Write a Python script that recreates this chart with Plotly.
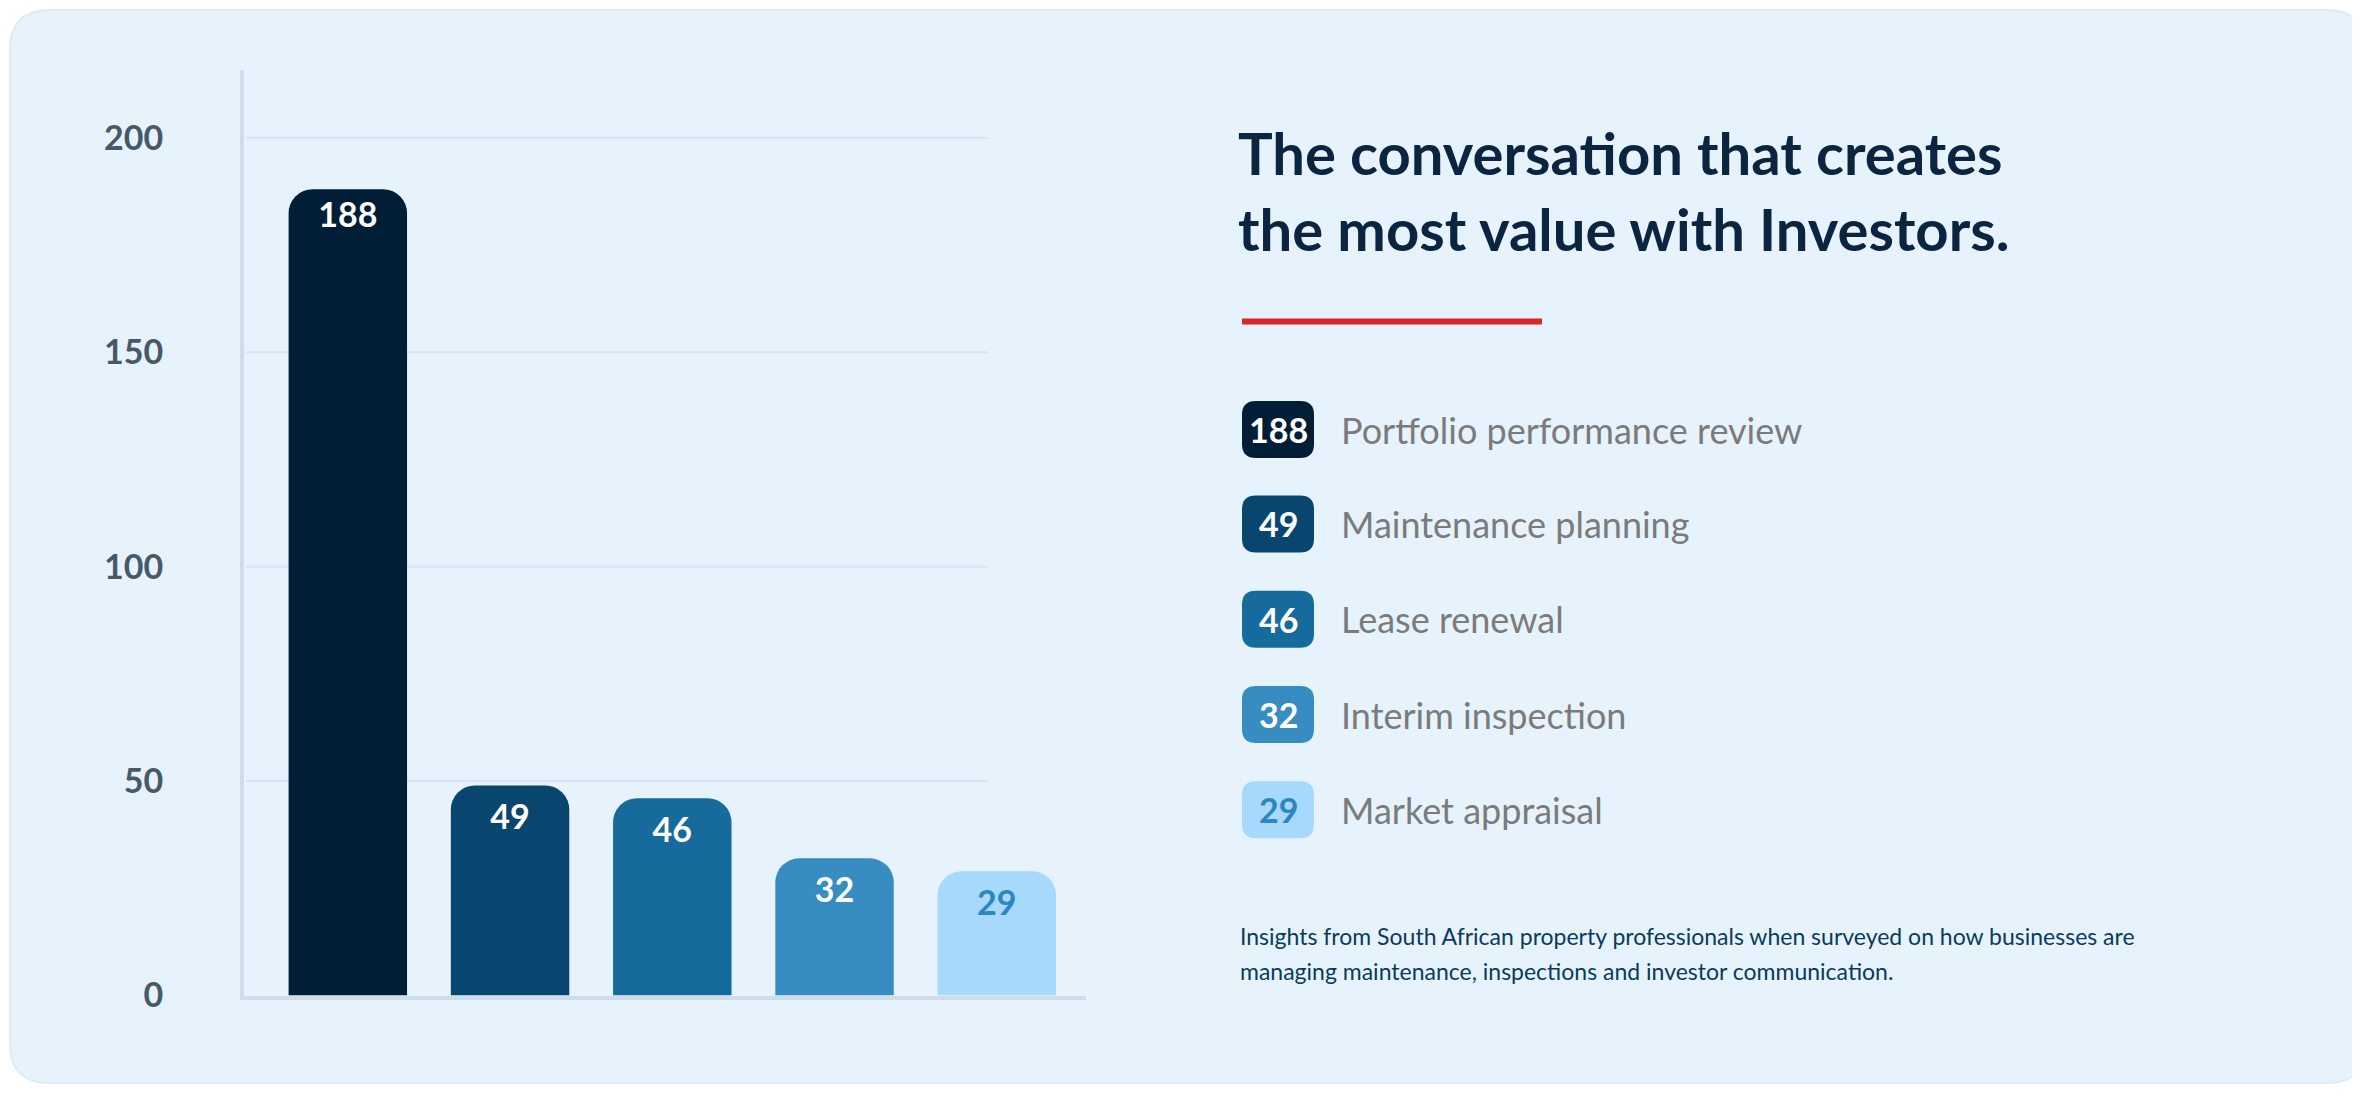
import plotly.graph_objects as go

categories = ["Portfolio performance review", "Maintenance planning", "Lease renewal",
              "Interim inspection", "Market appraisal"]
values = [188, 49, 46, 32, 29]
colors = ["#011E36", "#08466F", "#176A9C", "#378CC2", "#A6D9FC"]
label_colors = ["#FFFFFF", "#FFFFFF", "#FFFFFF", "#FFFFFF", "#2E86C1"]
tick_vals = [0, 50, 100, 150, 200]
title_lines = ["The conversation that creates", "the most value with Investors."]
footer_lines = ["Insights from South African property professionals when surveyed on how businesses are",
                "managing maintenance, inspections and investor communication."]

W, H = 2360, 1096
FONT = "Lato"

def px(x):
    return x / W

def py(y):
    return 1 - y / H

def rrect(x0, y0, x1, y1, r):
    # pixel coords -> paper path with rounded corners
    rx, ry = r / W, r / H
    X0, X1 = px(x0), px(x1)
    Ytop, Ybot = py(y0), py(y1)
    return (f"M{X0+rx},{Ytop} L{X1-rx},{Ytop} Q{X1},{Ytop} {X1},{Ytop-ry} "
            f"L{X1},{Ybot+ry} Q{X1},{Ybot} {X1-rx},{Ybot} L{X0+rx},{Ybot} "
            f"Q{X0},{Ybot} {X0},{Ybot+ry} L{X0},{Ytop-ry} Q{X0},{Ytop} {X0+rx},{Ytop} Z")

fig = go.Figure()
fig.add_trace(go.Bar(
    x=list(range(len(values))), y=values, width=0.73,
    marker=dict(color=colors, cornerradius=24, line=dict(width=0)),
    text=[str(v) for v in values], textposition="inside", insidetextanchor="end",
    textfont=dict(family=FONT, size=34, color=label_colors, weight="bold"),
    textangle=0, hoverinfo="skip", cliponaxis=False,
))

shapes = [dict(type="path", path=rrect(2, 2, W - 2, H - 2, 40), xref="paper", yref="paper",
               fillcolor="#E6F3FC", line=dict(color="#DDEBF5", width=2), layer="below")]
for t in tick_vals[1:]:
    shapes.append(dict(type="line", xref="paper", yref="y", x0=px(238), x1=px(980), y0=t, y1=t,
                       line=dict(color="#D5E5F0", width=2), layer="below"))
shapes.append(dict(type="line", xref="paper", yref="paper", x0=px(1234), x1=px(1534),
                   y0=py(319), y1=py(319), line=dict(color="#D9262E", width=6)))

annotations = []
for i, line in enumerate(title_lines):
    annotations.append(dict(text=line, xref="paper", yref="paper", x=px(1228), y=py(147 + i * 77),
                            xanchor="left", yanchor="middle", showarrow=False,
                            font=dict(family=FONT, size=58, color="#0B2440", weight="bold")))
row_y = [429, 525, 622, 719, 816]
for i, (c, v) in enumerate(zip(categories, values)):
    yc = row_y[i]
    shapes.append(dict(type="path", path=rrect(1234, yc - 29, 1306, yc + 29, 14),
                       xref="paper", yref="paper", fillcolor=colors[i], line=dict(width=0)))
    annotations.append(dict(text=str(v), xref="paper", yref="paper", x=px(1270), y=py(yc),
                            xanchor="center", yanchor="middle", showarrow=False,
                            font=dict(family=FONT, size=34, color=label_colors[i], weight="bold")))
    annotations.append(dict(text=c, xref="paper", yref="paper", x=px(1331), y=py(yc),
                            xanchor="left", yanchor="middle", showarrow=False,
                            font=dict(family=FONT, size=36, color="#7B7B7B")))
for i, line in enumerate(footer_lines):
    annotations.append(dict(text=line, xref="paper", yref="paper", x=px(1230), y=py(944 + i * 36),
                            xanchor="left", yanchor="middle", showarrow=False,
                            font=dict(family=FONT, size=23, color="#0B3A5E")))

fig.update_layout(
    width=W, height=H, margin=dict(l=0, r=0, t=0, b=0),
    paper_bgcolor="#FFFFFF", plot_bgcolor="rgba(0,0,0,0)",
    showlegend=False, shapes=shapes, annotations=annotations,
    xaxis=dict(domain=[px(236), px(1078)], range=[-0.64, 4.55], showticklabels=False,
               showgrid=False, zeroline=False, showline=True, linecolor="#CFDDE8", linewidth=4,
               fixedrange=True),
    yaxis=dict(domain=[1 - 1005 / H, 1 - 63 / H], range=[0, 215.8], tickvals=tick_vals,
               showgrid=False, zeroline=False, showline=True, linecolor="#CFDDE8", linewidth=4,
               ticks="", ticklabelstandoff=70,
               tickfont=dict(family=FONT, size=34, color="#46596A", weight="bold"),
               fixedrange=True),
)

fig.write_html("out.html")
